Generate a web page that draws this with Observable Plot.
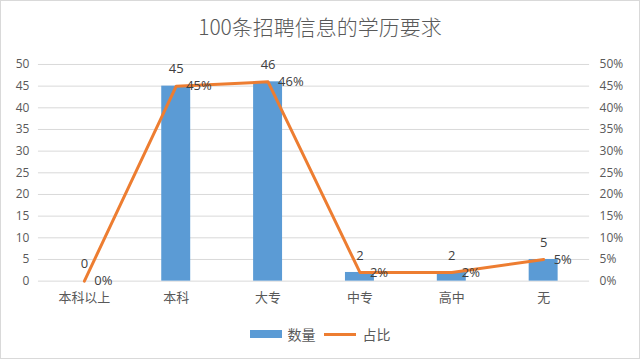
<!DOCTYPE html>
<html>
<head>
<meta charset="utf-8">
<script src="https://cdn.jsdelivr.net/npm/d3@7"></script>
<script src="https://cdn.jsdelivr.net/npm/@observablehq/plot@0.6"></script>
<style>
  html, body { margin: 0; padding: 0; background: #fff; }
  #wrap { position: relative; width: 638px; height: 357px; border: 1px solid #d9d9d9; overflow: hidden;
    font-family: "Open Sans", "Noto Sans CJK SC", sans-serif; }
  #title { position: absolute; left: 0; top: 0; width: 638px; height: 50px; line-height: 50px; text-align: center;
    font-family: "Noto Sans CJK SC", sans-serif; font-weight: 300; font-size: 21px; color: #595959; }
  #chart { position: absolute; left: -1px; top: 49px; }
  #legend { position: absolute; left: 0; top: 322px; width: 638px; height: 22px; display: flex; justify-content: center; align-items: center;
    font-family: "Noto Sans CJK SC", sans-serif; font-size: 14px; color: #595959; }
  .sw-bar { display: inline-block; width: 32px; height: 8px; background: #5B9BD5; margin-right: 6px; }
  .sw-line { display: inline-block; width: 32px; height: 3px; background: #ED7D31; margin: 0 7px 0 8px; }
</style>
</head>
<body>
<div id="wrap">
  <div id="title">100条招聘信息的学历要求</div>
  <div id="chart"></div>
  <div id="legend"><span class="sw-bar"></span><span>数量</span><span class="sw-line"></span><span>占比</span></div>
</div>
<script>
const categories = ["本科以上", "本科", "大专", "中专", "高中", "无"];
const counts = [0, 45, 46, 2, 2, 5];
const shares = [0, 0.45, 0.46, 0.02, 0.02, 0.05];
const yTicks = [0, 5, 10, 15, 20, 25, 30, 35, 40, 45, 50];

const data = categories.map((c, i) => ({cat: c, count: counts[i], share: shares[i]}));

const plot = Plot.plot({
  width: 640,
  height: 260,
  marginTop: 14,
  marginBottom: 29,
  marginLeft: 38,
  marginRight: 50,
  style: {fontFamily: "'Open Sans', 'Noto Sans CJK SC', sans-serif", fontSize: "12px", color: "#595959", background: "transparent"},
  x: {domain: categories, padding: 0, label: null},
  y: {domain: [0, 50], label: null},
  marks: [
    Plot.ruleY(yTicks, {stroke: "#d9d9d9", strokeWidth: 1}),
    Plot.axisY({anchor: "left", ticks: yTicks, tickSize: 0, tickPadding: 9, label: null, fontSize: 12}),
    Plot.axisY({anchor: "right", ticks: yTicks, tickSize: 0, tickPadding: 10, label: null, fontSize: 12, tickFormat: d => d + "%"}),
    Plot.axisX({tickSize: 0, tickPadding: 12, label: null, fontSize: 13, fontFamily: "'Noto Sans CJK SC', sans-serif"}),
    Plot.barY(data, {x: "cat", y: "count", fill: "#5B9BD5", insetLeft: 31.5, insetRight: 31.5}),
    Plot.line(data, {x: "cat", y: d => d.share * 100, stroke: "#ED7D31", strokeWidth: 3, strokeLinejoin: "round"}),
    Plot.text(data, {x: "cat", y: "count", text: d => String(d.count), dy: -17, fontSize: 13, fill: "#404040"}),
    Plot.text(data, {x: "cat", y: d => d.share * 100, text: d => Math.round(d.share * 100) + "%", textAnchor: "start", dx: 10, dy: 0, fontSize: 13, fill: "#404040"})
  ]
});
document.getElementById("chart").appendChild(plot);
</script>
</body>
</html>
